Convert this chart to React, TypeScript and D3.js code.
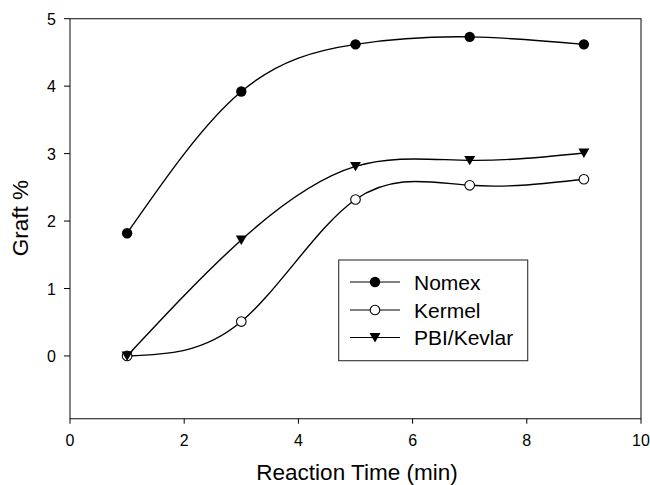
import React from "react";
import * as d3 from "d3";

const times = [1, 3, 5, 7, 9];
const nomex = [1.82, 3.92, 4.62, 4.73, 4.62];
const kermel = [0.0, 0.51, 2.32, 2.53, 2.62];
const pbiKevlar = [0.0, 1.72, 2.81, 2.9, 3.01];
const xTicks = [0, 2, 4, 6, 8, 10];
const yTicks = [0, 1, 2, 3, 4, 5];
const seriesNames = ["Nomex", "Kermel", "PBI/Kevlar"];

const W = 650, H = 485;
const left = 70, right = 641, top = 18.7, bottom = 418.7;
const FONT = "'Liberation Sans', Arial, sans-serif";

export default function App() {
  const x = d3.scaleLinear().domain([0, 10]).range([left, right]);
  const y = d3.scaleLinear().domain([-0.93, 5]).range([bottom, top]);
  const line = d3.line<[number, number]>().x(d => x(d[0])).y(d => y(d[1])).curve(d3.curveNatural);
  const series = [nomex, kermel, pbiKevlar];
  const tri = (cx: number, cy: number, s = 5.5) =>
    `M${cx - s},${cy - s * 0.8} L${cx + s},${cy - s * 0.8} L${cx},${cy + s * 0.9} Z`;
  const marker = (i: number, cx: number, cy: number, key: string) => {
    if (i === 0) return <circle key={key} cx={cx} cy={cy} r={5.2} fill="#000" />;
    if (i === 1) return <circle key={key} cx={cx} cy={cy} r={4.8} fill="#fff" stroke="#000" strokeWidth={1.1} />;
    return <path key={key} d={tri(cx, cy)} fill="#000" />;
  };
  const legendY = [282, 310, 337.5];
  return (
    <svg width={W} height={H} style={{ position: "absolute", left: 0, top: 0, background: "#fff" }} fontFamily={FONT}>
      <rect x={0} y={0} width={W} height={H} fill="#fff" />
      <rect x={left} y={top} width={right - left} height={bottom - top} fill="none" stroke="#333" strokeWidth={1.2} />
      {xTicks.map(t => (
        <g key={"x" + t}>
          <line x1={x(t)} x2={x(t)} y1={bottom} y2={bottom + 5} stroke="#000" />
          <text x={x(t)} y={446} textAnchor="middle" fontSize={16}>{t}</text>
        </g>
      ))}
      {yTicks.map(t => (
        <g key={"y" + t}>
          <line x1={left - 6} x2={left} y1={y(t)} y2={y(t)} stroke="#000" />
          <text x={56} y={y(t) + 6} textAnchor="end" fontSize={16}>{t}</text>
        </g>
      ))}
      <text x={357} y={480} textAnchor="middle" fontSize={22.5}>Reaction Time (min)</text>
      <text transform={`translate(28,218) rotate(-90)`} textAnchor="middle" fontSize={22.5}>Graft %</text>
      {series.map((vals, i) => {
        const pts = times.map((t, j) => [t, vals[j]] as [number, number]);
        return (
          <g key={"s" + i}>
            <path d={line(pts) || ""} fill="none" stroke="#000" strokeWidth={1.4} />
            {pts.map((p, j) => marker(i, x(p[0]), y(p[1]), `m${i}-${j}`))}
          </g>
        );
      })}
      <rect x={338.7} y={260} width={189} height={100.7} fill="#fff" stroke="#333" strokeWidth={1.1} />
      {seriesNames.map((n, i) => (
        <g key={"l" + i}>
          <line x1={350} x2={400} y1={legendY[i]} y2={legendY[i]} stroke="#000" strokeWidth={1.2} />
          {marker(i, 375, legendY[i], "lm" + i)}
          <text x={414} y={legendY[i] + 7.5} fontSize={21}>{n}</text>
        </g>
      ))}
    </svg>
  );
}
